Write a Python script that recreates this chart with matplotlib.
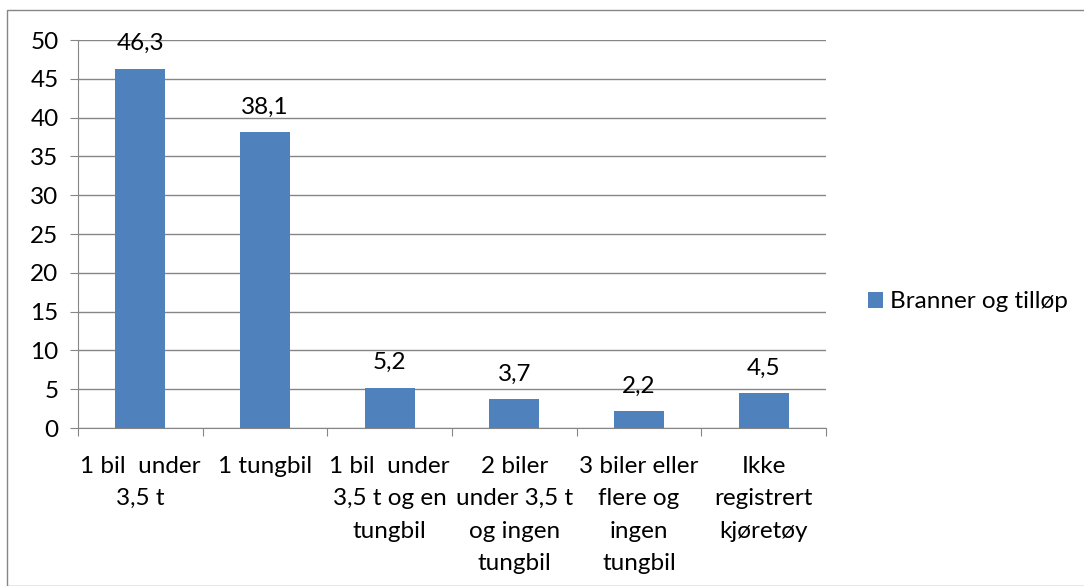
import matplotlib.pyplot as plt
from matplotlib.patches import Rectangle

plt.rcParams['font.family'] = ['Lato', 'DejaVu Sans']

kategorier = ["1 bil  under\n3,5 t", "1 tungbil", "1 bil  under\n3,5 t og en\ntungbil",
              "2 biler\nunder 3,5 t\nog ingen\ntungbil", "3 biler eller\nflere og\ningen\ntungbil",
              "Ikke\nregistrert\nkjøretøy"]
verdier = [46.3, 38.1, 5.2, 3.7, 2.2, 4.5]
serie = "Branner og tilløp"
yticks = [0, 5, 10, 15, 20, 25, 30, 35, 40, 45, 50]

farge = "#4F81BD"
grå = "#868686"
fs = 17.5

fig = plt.figure(figsize=(10.84, 5.86), dpi=100)
ax = fig.add_axes([0.072, 0.2696, 0.69, 0.6621])

x = range(len(verdier))
bars = ax.bar(x, verdier, width=0.4, color=farge, label=serie, zorder=3)
for b, v in zip(bars, verdier):
    ax.annotate(f"{v:.1f}".replace(".", ","), (b.get_x() + b.get_width() / 2, v),
                xytext=(0, 10.5), textcoords="offset points", ha="center", va="bottom",
                fontsize=fs, zorder=4)

ax.set_xlim(-0.5, len(verdier) - 0.5)
ax.set_ylim(0, 50)
ax.set_yticks(yticks)
ax.tick_params(axis="y", labelsize=fs, length=6, color=grå, pad=8)
ax.set_xticks([i - 0.5 for i in range(len(verdier) + 1)])
ax.set_xticklabels([])
ax.set_xticks(list(x), minor=True)
ax.set_xticklabels(kategorier, minor=True, fontsize=fs, linespacing=1.67)
ax.tick_params(axis="x", which="major", length=6, color=grå)
ax.tick_params(axis="x", which="minor", length=0, pad=20)
ax.grid(axis="y", color=grå, linewidth=1, zorder=0)
for s in ["top", "right"]:
    ax.spines[s].set_visible(False)
for s in ["left", "bottom"]:
    ax.spines[s].set_color(grå)

ax.legend(loc="center left", bbox_to_anchor=(1.043, 0.325), frameon=False, fontsize=fs,
          handlelength=0.62, handleheight=0.62, handletextpad=0.3, borderaxespad=0)

fig.patches.append(Rectangle((7 / 1084, 0), 1.2, 1 - 10 / 586, transform=fig.transFigure,
                             fill=False, edgecolor=grå, linewidth=1))

fig.savefig("out.png", dpi=100)
